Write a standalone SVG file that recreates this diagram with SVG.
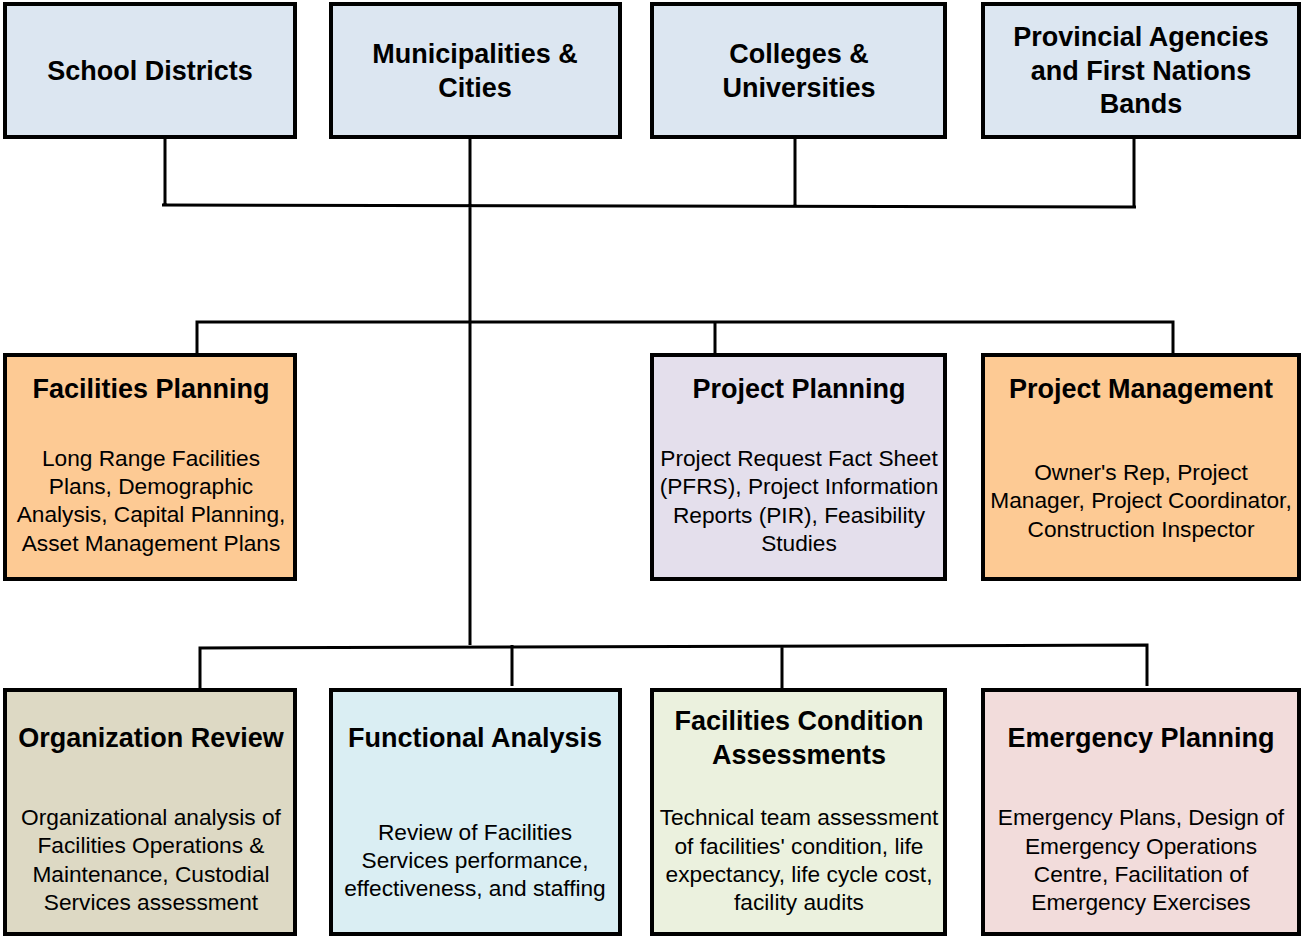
<svg xmlns="http://www.w3.org/2000/svg" width="1303" height="937" viewBox="0 0 1303 937">
<style>
.box{stroke:#000;stroke-width:4}
.t{font-family:"Liberation Sans",Arial,sans-serif;font-weight:bold;font-size:27px;fill:#000;text-anchor:middle}
.b{font-family:"Liberation Sans",Arial,sans-serif;font-size:22.7px;fill:#000;text-anchor:middle}
.c{stroke:#000;stroke-width:3;fill:none}
</style>
<rect width="1303" height="937" fill="#fff"/>
<g id="connectors">
<path class="c" d="M165 137V205M470 137V205M795 137V205M1134 137V206M162 205L1136 207M470 205V645"/>
<path class="c" d="M197 353V322H1173V353M715 322V353"/>
<path class="c" d="M200 688V648L1147 645V686M512 645V686M782 646V688"/>
</g>
<g id="n-school"><rect class="box" x="5" y="4" width="290" height="133" fill="#dce6f1"/><text class="t" x="150" y="80">School Districts</text></g>
<g id="n-muni"><rect class="box" x="331" y="4" width="289" height="133" fill="#dce6f1"/><text class="t" x="475" y="63">Municipalities &amp;</text><text class="t" x="475" y="97">Cities</text></g>
<g id="n-colleges"><rect class="box" x="652" y="4" width="293" height="133" fill="#dce6f1"/><text class="t" x="799" y="63">Colleges &amp;</text><text class="t" x="799" y="97">Universities</text></g>
<g id="n-prov"><rect class="box" x="983" y="4" width="316" height="133" fill="#dce6f1"/><text class="t" x="1141" y="46">Provincial Agencies</text><text class="t" x="1141" y="80">and First Nations</text><text class="t" x="1141" y="113">Bands</text></g>
<g id="n-facplan"><rect class="box" x="5" y="355" width="290" height="224" fill="#fdca94"/><text class="t" x="151" y="398">Facilities Planning</text>
<text class="b" x="151" y="466">Long Range Facilities</text><text class="b" x="151" y="494">Plans, Demographic</text><text class="b" x="151" y="522">Analysis, Capital Planning,</text><text class="b" x="151" y="551">Asset Management Plans</text></g>
<g id="n-projplan"><rect class="box" x="652" y="355" width="293" height="224" fill="#e4dfec"/><text class="t" x="799" y="398">Project Planning</text>
<text class="b" x="799" y="466">Project Request Fact Sheet</text><text class="b" x="799" y="494">(PFRS), Project Information</text><text class="b" x="799" y="523">Reports (PIR), Feasibility</text><text class="b" x="799" y="551">Studies</text></g>
<g id="n-projmgmt"><rect class="box" x="983" y="355" width="316" height="224" fill="#fdca94"/><text class="t" x="1141" y="398">Project Management</text>
<text class="b" x="1141" y="480">Owner's Rep, Project</text><text class="b" x="1141" y="508">Manager, Project Coordinator,</text><text class="b" x="1141" y="537">Construction Inspector</text></g>
<g id="n-org"><rect class="box" x="5" y="690" width="290" height="244" fill="#ddd9c4"/><text class="t" x="151" y="747">Organization Review</text>
<text class="b" x="151" y="825">Organizational analysis of</text><text class="b" x="151" y="853">Facilities Operations &amp;</text><text class="b" x="151" y="882">Maintenance, Custodial</text><text class="b" x="151" y="910">Services assessment</text></g>
<g id="n-func"><rect class="box" x="331" y="690" width="289" height="244" fill="#daeef3"/><text class="t" x="475" y="747">Functional Analysis</text>
<text class="b" x="475" y="840">Review of Facilities</text><text class="b" x="475" y="868">Services performance,</text><text class="b" x="475" y="896">effectiveness, and staffing</text></g>
<g id="n-fca"><rect class="box" x="652" y="690" width="293" height="244" fill="#ebf1de"/><text class="t" x="799" y="730">Facilities Condition</text><text class="t" x="799" y="764">Assessments</text>
<text class="b" x="799" y="825">Technical team assessment</text><text class="b" x="799" y="854">of facilities' condition, life</text><text class="b" x="799" y="882">expectancy, life cycle cost,</text><text class="b" x="799" y="910">facility audits</text></g>
<g id="n-emerg"><rect class="box" x="983" y="690" width="316" height="244" fill="#f2dcdb"/><text class="t" x="1141" y="747">Emergency Planning</text>
<text class="b" x="1141" y="825">Emergency Plans, Design of</text><text class="b" x="1141" y="854">Emergency Operations</text><text class="b" x="1141" y="882">Centre, Facilitation of</text><text class="b" x="1141" y="910">Emergency Exercises</text></g>
</svg>
